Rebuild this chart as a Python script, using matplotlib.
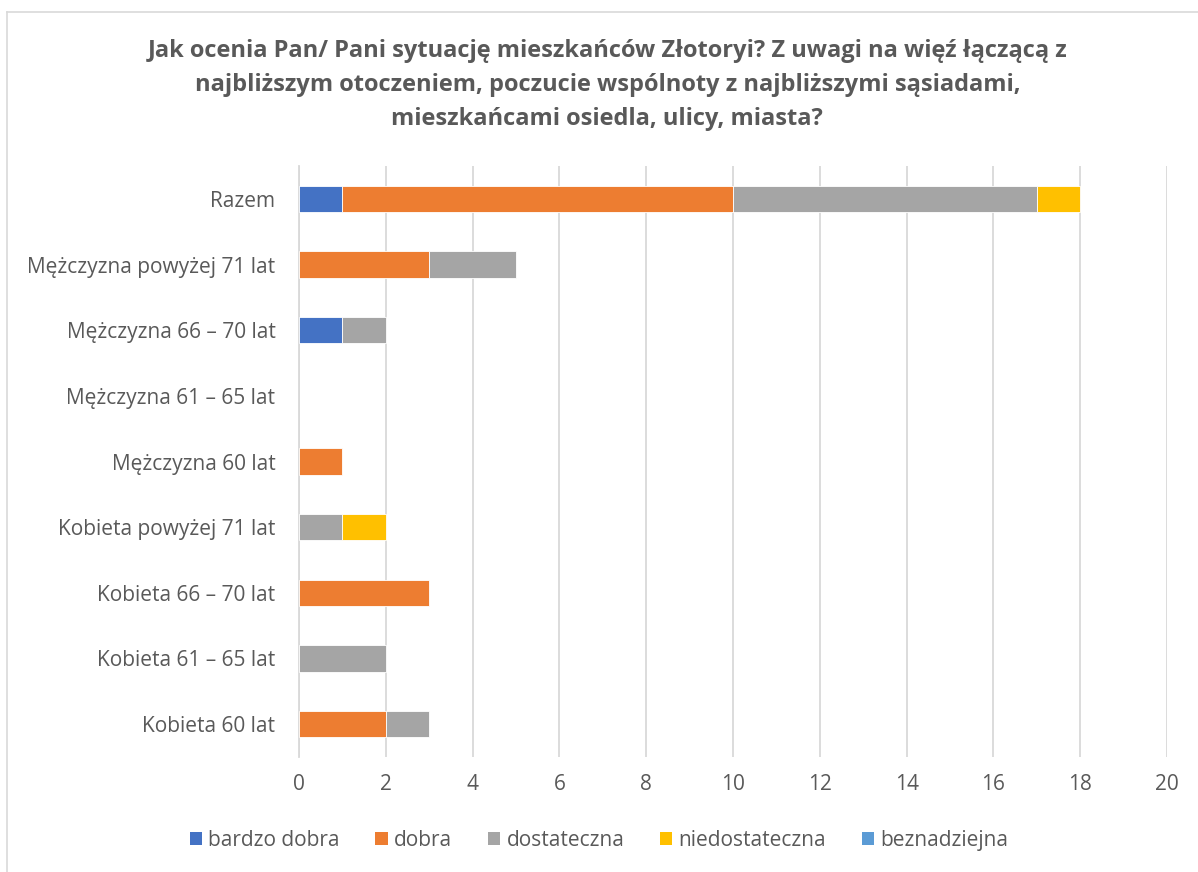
import matplotlib
matplotlib.use("Agg")
import matplotlib.pyplot as plt
import numpy as np
from matplotlib.lines import Line2D
from matplotlib.patches import Patch

categories = ["Kobieta 60 lat", "Kobieta 61 – 65 lat", "Kobieta 66 – 70 lat",
              "Kobieta powyżej 71 lat", "Mężczyzna 60 lat", "Mężczyzna 61 – 65 lat",
              "Mężczyzna 66 – 70 lat", "Mężczyzna powyżej 71 lat", "Razem"]
series_names = ["bardzo dobra", "dobra", "dostateczna", "niedostateczna", "beznadziejna"]
bardzo_dobra   = [0, 0, 0, 0, 0, 0, 1, 0, 1]
dobra          = [2, 0, 3, 0, 1, 0, 0, 3, 9]
dostateczna    = [1, 2, 0, 1, 0, 0, 1, 2, 7]
niedostateczna = [0, 0, 0, 1, 0, 0, 0, 0, 1]
beznadziejna   = [0, 0, 0, 0, 0, 0, 0, 0, 0]
colors = ["#4472C4", "#ED7D31", "#A5A5A5", "#FFC000", "#5B9BD5"]
title = ("Jak ocenia Pan/ Pani sytuację mieszkańców Złotoryi? Z uwagi na więź łączącą z\n"
         "najbliższym otoczeniem, poczucie wspólnoty z najbliższymi sąsiadami,\n"
         "mieszkańcami osiedla, ulicy, miasta?")

plt.rcParams['font.family'] = ['Open Sans', 'DejaVu Sans']
txt = "#595959"

fig = plt.figure(figsize=(11.98, 8.72), dpi=100)
ax = fig.add_axes([0.2496, 0.1319, 0.7245, 0.6777])

data = [bardzo_dobra, dobra, dostateczna, niedostateczna, beznadziejna]
y = np.arange(len(categories))
left = np.zeros(len(categories))
handles = []
for name, vals, c in zip(series_names, data, colors):
    v = np.array(vals, dtype=float)
    m = v > 0
    ax.barh(y[m], v[m], left=left[m], height=0.4, color=c, edgecolor="white",
            linewidth=0.6, zorder=3)
    handles.append(Patch(facecolor=c, label=name))
    left += v

ax.set_xlim(0, 20)
ax.set_ylim(-0.5, len(categories) - 0.5)
ax.set_xticks(range(0, 21, 2))
ax.set_yticks(y)
ax.set_yticklabels(categories)
ax.grid(axis="x", color="#D9D9D9", linewidth=1.3, zorder=0)
for s in ["top", "right", "bottom"]:
    ax.spines[s].set_visible(False)
ax.spines["left"].set_color("#D9D9D9")
ax.spines["left"].set_linewidth(1.3)
ax.tick_params(axis="both", length=0, labelsize=15, labelcolor=txt)
ax.tick_params(axis="x", pad=12)
ax.tick_params(axis="y", pad=17)

fig.text(0.507, 0.9025, title, ha="center", va="center", fontsize=17, fontweight="bold",
         color=txt, linespacing=1.55, family=["Open Sans", "DejaVu Sans"])

fig.legend(handles=handles, loc="center", bbox_to_anchor=(0.5, 0.036), ncol=5, frameon=False,
           fontsize=15, labelcolor=txt, handlelength=0.6, handleheight=0.6,
           handletextpad=0.3, columnspacing=1.7)

# chart border (top and left visible)
fig.add_artist(Line2D([7/1198, 1.0], [1 - 12/872, 1 - 12/872], transform=fig.transFigure,
                      color="#D9D9D9", linewidth=1.2))
fig.add_artist(Line2D([7/1198, 7/1198], [0.0, 1 - 12/872], transform=fig.transFigure,
                      color="#D9D9D9", linewidth=1.2))

fig.savefig("out.png", dpi=100, facecolor="white")
